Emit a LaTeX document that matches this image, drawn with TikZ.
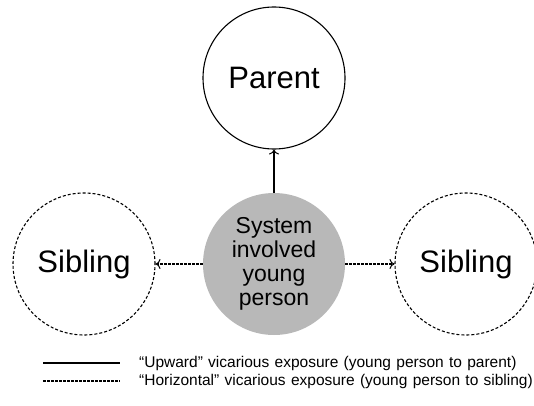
\documentclass[tikz,border=0pt]{standalone}
\usepackage{fontspec}
\setmainfont{Liberation Sans}
\usepackage{tikz}
\usetikzlibrary{positioning,arrows.meta}

\newcommand{\legendfont}{\fontsize{15.5}{17}\selectfont\spaceskip=5.3pt\relax}

\tikzset{
    member/.style={circle, draw, line width=1.1pt, minimum size=142pt, inner sep=0pt,
        font=\fontsize{31}{33}\selectfont},
    sibling/.style={member, dash pattern=on 3pt off 2pt},
    youth/.style={circle, fill=black!28, minimum size=142pt, inner sep=0pt, align=center,
        font=\fontsize{23}{24}\selectfont},
    upward/.style={-{To[length=5pt,width=10pt,line width=1pt]}, line width=1.1pt},
    horizontal/.style={upward, dash pattern=on 2.5pt off 1.5pt},
    legendtext/.style={anchor=west, inner sep=0pt}
}

\begin{document}
\begin{tikzpicture}[x=1pt,y=1pt]
    \useasboundingbox (0,0) rectangle (534,405);
    % the four people
    \node [youth] (young) at (274,141) {System\\involved\\young\\person};
    \node [member] (parent) at (274,327) {Parent};
    \node [sibling] (sibleft) at (84,141) {Sibling};
    \node [sibling] (sibright) at (466,141) {Sibling};
    % exposures
    \draw[upward] (young) -- (parent);
    \draw[horizontal] (young) -- (sibleft);
    \draw[horizontal] (young) -- (sibright);
    % legend
    \coordinate (upa) at (43,42);
    \coordinate (upb) at (120,42);
    \coordinate (hoa) at (43,24);
    \coordinate (hob) at (120,24);
    \draw[line width=1.1pt] (upa) -- (upb);
    \draw[line width=1.1pt, dash pattern=on 2.5pt off 1.5pt] (hoa) -- (hob);
    \node [legendtext] (uptext) at (139,42) {\legendfont “Upward” vicarious exposure (young person to parent)};
    \node [legendtext] (hotext) at (139,24) {\legendfont “Horizontal” vicarious exposure (young person to sibling)};
\end{tikzpicture}
\end{document}
